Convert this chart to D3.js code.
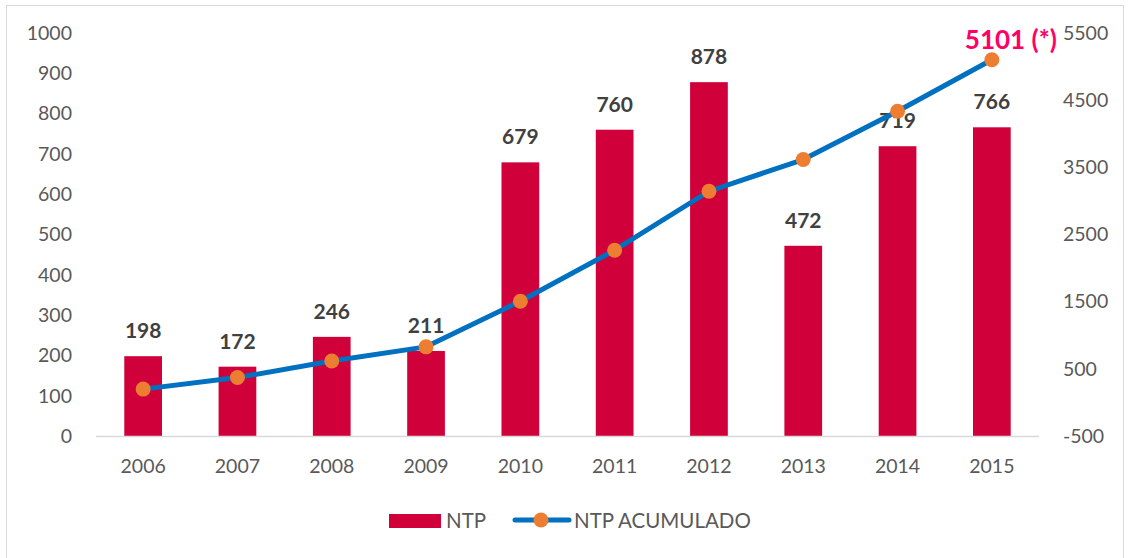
<!DOCTYPE html>
<html>
<head>
<meta charset="utf-8">
<script src="https://cdn.jsdelivr.net/npm/d3@7"></script>
<style>
  body { margin: 0; background: #fff; }
  svg { font-family: Lato, "Open Sans", sans-serif; }
</style>
</head>
<body>
<div id="chart-section"></div>
<script>
// data
var years = ["2006","2007","2008","2009","2010","2011","2012","2013","2014","2015"];
var ntp = [198, 172, 246, 211, 679, 760, 878, 472, 719, 766];
var ntpAcum = [198, 370, 616, 827, 1506, 2266, 3144, 3616, 4335, 5101];
var leftTicks = [0,100,200,300,400,500,600,700,800,900,1000];
var rightTicks = [-500,500,1500,2500,3500,4500,5500];

var width = 1129, height = 558;
var plot = {left: 96, right: 1039, top: 33, bottom: 436};

var svg = d3.select("#chart-section")
        .append("svg")
        .attr("width", width)
        .attr("height", height);

// frame
svg.append("rect")
        .attr("x", 6.5).attr("y", 5.5)
        .attr("width", 1117).attr("height", 560)
        .attr("fill", "none")
        .attr("stroke", "#D9D9D9");

var xscale = d3.scaleBand()
        .domain(years)
        .range([plot.left, plot.right])
        .paddingInner(0.6)
        .paddingOuter(0.3);

var yscale = d3.scaleLinear()
        .domain([0, 1000])
        .range([plot.bottom, plot.top]);

var y2scale = d3.scaleLinear()
        .domain([-500, 5500])
        .range([plot.bottom, plot.top]);

var cx = d => xscale(d) + xscale.bandwidth() / 2;

// left axis labels
svg.append("g").selectAll("text")
        .data(leftTicks).enter().append("text")
        .attr("x", 72).attr("y", d => yscale(d))
        .attr("dy", "0.35em")
        .attr("text-anchor", "end")
        .attr("font-size", 19.5)
        .attr("fill", "#595959")
        .text(d => d);

// right axis labels
svg.append("g").selectAll("text")
        .data(rightTicks).enter().append("text")
        .attr("x", 1063).attr("y", d => y2scale(d))
        .attr("dy", "0.35em")
        .attr("font-size", 19.5)
        .attr("fill", "#595959")
        .text(d => d);

// bars
svg.append("g").selectAll("rect")
        .data(ntp).enter().append("rect")
        .attr("x", (d, i) => xscale(years[i]))
        .attr("y", d => yscale(d))
        .attr("width", xscale.bandwidth())
        .attr("height", d => yscale(0) - yscale(d))
        .attr("fill", "#D0003A");

// x axis line
svg.append("line")
        .attr("x1", plot.left).attr("x2", plot.right)
        .attr("y1", plot.bottom + 0.5).attr("y2", plot.bottom + 0.5)
        .attr("stroke", "#D9D9D9").attr("stroke-width", 1.5);

// x labels
svg.append("g").selectAll("text")
        .data(years).enter().append("text")
        .attr("x", d => cx(d)).attr("y", 466)
        .attr("dy", "0.35em")
        .attr("text-anchor", "middle")
        .attr("font-size", 19.5)
        .attr("fill", "#595959")
        .text(d => d);

// bar value labels
svg.append("g").selectAll("text")
        .data(ntp).enter().append("text")
        .attr("x", (d, i) => cx(years[i]))
        .attr("y", d => yscale(d) - 18)
        .attr("text-anchor", "middle")
        .attr("font-size", 21)
        .attr("font-weight", "bold")
        .attr("fill", "#404040")
        .text(d => d);

// cumulative line
var line = d3.line()
        .x((d, i) => cx(years[i]))
        .y(d => y2scale(d));

svg.append("path")
        .datum(ntpAcum)
        .attr("d", line)
        .attr("fill", "none")
        .attr("stroke", "#0070C0")
        .attr("stroke-width", 5)
        .attr("stroke-linejoin", "round");

svg.append("g").selectAll("circle")
        .data(ntpAcum).enter().append("circle")
        .attr("cx", (d, i) => cx(years[i]))
        .attr("cy", d => y2scale(d))
        .attr("r", 7.5)
        .attr("fill", "#ED7D31");

// last cumulative label
var last = ntpAcum.length - 1;
svg.append("text")
        .attr("x", cx(years[last]) + 19)
        .attr("y", y2scale(ntpAcum[last]) - 20)
        .attr("dy", "0.35em")
        .attr("text-anchor", "middle")
        .attr("font-size", 26)
        .attr("font-weight", "bold")
        .attr("fill", "#FF0066")
        .text(ntpAcum[last] + " (*)");

// legend
var legend = svg.append("g");
legend.append("rect")
        .attr("x", 389).attr("y", 514)
        .attr("width", 52).attr("height", 14)
        .attr("fill", "#D0003A");
legend.append("text")
        .attr("x", 446).attr("y", 521).attr("dy", "0.35em")
        .attr("font-size", 20.5).attr("fill", "#595959")
        .text("NTP");
legend.append("line")
        .attr("x1", 515).attr("x2", 569)
        .attr("y1", 520).attr("y2", 520)
        .attr("stroke", "#0070C0").attr("stroke-width", 5)
        .attr("stroke-linecap", "round");
legend.append("circle")
        .attr("cx", 541).attr("cy", 520).attr("r", 7.5)
        .attr("fill", "#ED7D31");
legend.append("text")
        .attr("x", 574).attr("y", 521).attr("dy", "0.35em")
        .attr("font-size", 20.5).attr("fill", "#595959")
        .text("NTP ACUMULADO");
</script>
</body>
</html>
